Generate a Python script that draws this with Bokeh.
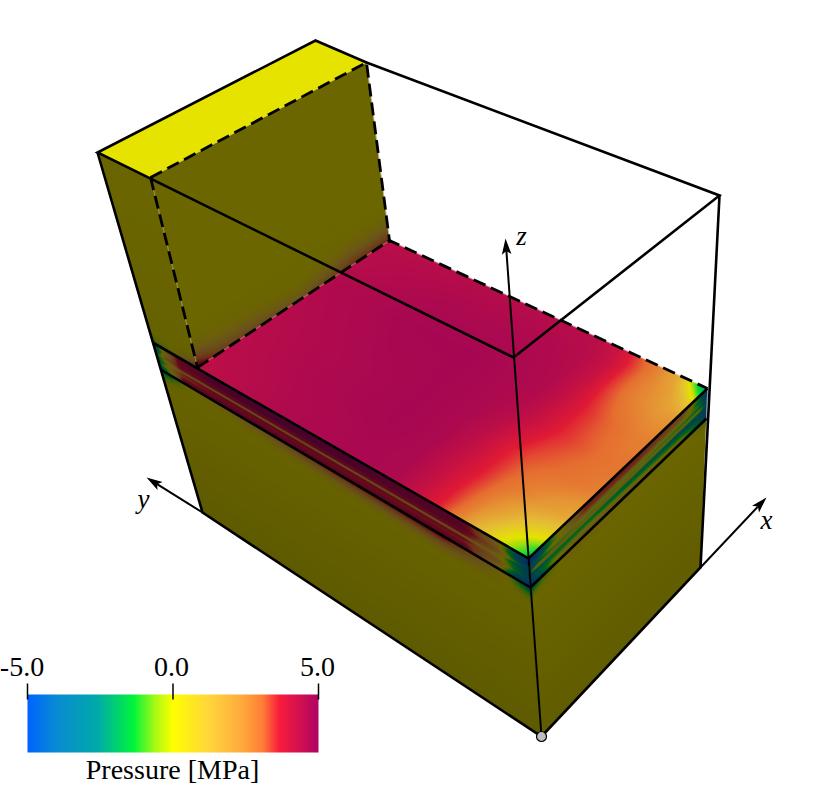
import numpy as np
from bokeh.plotting import figure
from bokeh.models import Range1d
from bokeh.core.properties import value
from bokeh.embed import file_html
from bokeh.resources import INLINE

W, H = 830, 792

# ---- colour scale (MPa -> RGB)
cmap_values = [-5.0, -4.0, -2.6, -1.36, -0.6, 0.0, 1.2, 2.4, 3.1, 3.65, 5.0]
cmap_r = [0, 10, 0, 0, 170, 255, 255, 255, 255, 250, 175]
cmap_g = [100, 140, 170, 245, 250, 255, 215, 170, 125, 30, 5]
cmap_b = [255, 210, 170, 60, 20, 0, 60, 60, 55, 60, 100]

# ---- colour bar
bar_ticks = [-5.0, 0.0, 5.0]
bar_tick_labels = ["-5.0", "0.0", "5.0"]
bar_tick_label_x = [21.5, 171, 317]
bar_title = "Pressure [MPa]"

# ---- top face: pressure [MPa], rows = across the block, columns = along it
top_s = [0, .03, .07, .12, .18, .24, .30, .38, .5, .7, 1]
top_t = [0, .05, .1, .2, .35, .5, .65, .8, .9, .95, 1]
top_p = [
    [-1.6, -1.0, -.2, 1.0, 2.6, 3.6, 4.2, 4.7, 4.75, 4.65, 4.35],
    [-1.3, -.5, .3, 1.5, 2.8, 3.6, 4.2, 4.7, 4.75, 4.65, 4.35],
    [.2, .4, 1.0, 2.0, 2.9, 3.6, 4.2, 4.7, 4.75, 4.65, 4.4],
    [1.8, 2.0, 2.3, 2.7, 3.1, 3.7, 4.2, 4.7, 4.8, 4.7, 4.45],
    [2.8, 2.9, 3.0, 3.1, 3.3, 3.7, 4.3, 4.7, 4.8, 4.7, 4.5],
    [3.0, 3.0, 3.1, 3.3, 3.6, 4.1, 4.5, 4.7, 4.8, 4.75, 4.55],
    [2.8, 2.8, 3.0, 3.2, 3.6, 4.2, 4.6, 4.7, 4.8, 4.8, 4.6],
    [2.4, 2.3, 2.5, 2.8, 3.4, 4.2, 4.55, 4.65, 4.7, 4.7, 4.5],
    [.5, 1.5, 2.3, 2.7, 3.4, 4.2, 4.5, 4.6, 4.6, 4.6, 4.5],
    [-1.5, .5, 2.0, 2.7, 3.4, 4.1, 4.45, 4.5, 4.55, 4.55, 4.45],
    [-2.6, -1.5, 1.6, 2.6, 3.2, 4.0, 4.4, 4.5, 4.5, 4.5, 4.4],
]

# ---- left layer strip
lband_s = [0, .03, .08, .2, .5, .85, .93, .97, 1]
lband_t = [0, .2, .33, .4, .47, .55, .62, .72, .85, 1]
lband_p = [
    [-3, 1, 4, 5, 5, 4.5, 1, -2, -4],
    [-4, 0, 4, 5, 5, 4.5, 1, -3, -5],
    [-3, 1, 4, 4.8, 5, 4.5, 2, -2, -4],
    [-2, 2, 3.7, 4.0, 4.0, 3.8, 2, -1, -3],
    [-3, 0, 4, 4.7, 4.7, 4.4, 1, -3, -4],
    [-2, .5, 1, .8, .9, 1, .5, -1.5, -3],
    [-3, -1, 3.5, 4.5, 4.5, 4.2, 1, -2, -4],
    [-2, 1, 3.0, 3.7, 3.7, 3.4, 2, -1.5, -3],
    [-3, -1, 4, 4.2, 4.2, 4, 1, -3, -4.5],
    [-3.5, -1, 4.5, 4.8, 4.8, 4.4, 0, -3.5, -5],
]

# ---- right layer strip
rband_s = [0, .04, .12, .3, .6, .85, .95, 1]
rband_t = [0, .2, .33, .42, .5, .6, .72, .85, 1]
rband_p = [
    [-5, -4, -1, 3.5, 3.5, 3, -1, -4],
    [-5, -4, -1, 3.2, 3.2, 2, -2, -5],
    [-3, -2, .5, 1.5, 1, .5, -1, -3],
    [-4, -3, -1.5, -1, -1, -1.5, -2, -4],
    [-2, 2, 2.5, 2.5, 2, 1.5, 1, -3],
    [-4, -3, -2, -1.8, -2.4, -3, -3, -4.5],
    [-4, -2, -1.2, -.8, -1.5, -2, -3, -4],
    [-5, -3, 0, 1.2, .5, -.5, -2, -4],
    [-5, -4, -1, 2, 1.5, .3, -2, -4.5],
]

# ---- bleed of the layer into the lower left face
lface_s = [0, .02, .08, .2, .5, .8, .95, 1]
lface_t = [0, .03, .07, .12, 1]
lface_p = [
    [-3, -2.5, 0, .8, 3.6, 4.2, 0, -4],
    [-1, -1, 0, .3, 2.2, 3, 0, -1.5],
    [0, 0, 0, 0, .5, 1, 0, -.3],
    [0, 0, 0, 0, 0, 0, 0, 0],
    [0, 0, 0, 0, 0, 0, 0, 0],
]

# ---- bleed of the layer into the lower right face
rface_s = [0, .05, .2, .5, .9, 1]
rface_t = [0, .03, .07, 1]
rface_p = [
    [-4, -1.5, .8, .4, 0, -1],
    [-1, -.3, .2, .1, 0, -.2],
    [0, 0, 0, 0, 0, 0],
    [0, 0, 0, 0, 0, 0],
]

# ---- bleed at the foot of the rear wall
wall_s = [0, .1, .5, .8, 1]
wall_t = [0, .05, .1, .18, 1]
wall_p = [
    [4.5, 3, 1.5, 3.4, 3.5],
    [3, 1.5, .5, 1.8, 1.8],
    [1, .4, 0, .6, .6],
    [0, 0, 0, 0, 0],
    [0, 0, 0, 0, 0],
]

# ---- bleed at the foot of the small left wall
side_s = [0, .1, .5, 1]
side_t = [0, .03, .08, 1]
side_p = [
    [-2.5, -1, 0, 4],
    [-1, -.3, 0, 1.5],
    [0, 0, 0, 0],
    [0, 0, 0, 0],
]

# ---- geometry of the block, as screen positions (x, y from the top)
quad_top = [(528, 558), (197, 367), (389, 240), (707, 388)]
quad_lband = [(152, 342), (528, 558), (530, 587), (160, 369)]
quad_rband = [(528, 558), (707, 388), (706, 418), (530, 587)]
quad_lface = [(160, 369), (530, 587), (541, 736), (202, 512)]
quad_rface = [(530, 587), (706, 418), (700, 567), (541, 736)]
quad_wall = [(197, 367), (389, 240), (366, 62), (150, 177)]
quad_side = [(152, 342), (197, 367), (150, 177), (97, 152)]
poly_yellow = [(97, 152), (315, 40), (366, 62), (150, 177)]

solid_lines = [
    [(366, 62), (315, 40), (97, 152), (513, 357), (719, 195), (366, 62)],
    [(97, 152), (202, 512), (541, 736), (700, 567), (719, 195)],
    [(152, 342), (528, 558), (707, 388)],
    [(160, 369), (530, 587), (706, 418)],
]
dashed_lines = [
    [(197, 367), (389, 240), (707, 388)],
    [(150, 177), (366, 62), (389, 240)],
    [(150, 177), (197, 367)],
]
axis_lines = [
    ("z", (541, 736), (505, 238), (521, 235)),
    ("y", (202, 512), (146, 477), (143, 498)),
    ("x", (700, 567), (766, 497), (766, 519)),
]
origin_point = (541, 736)

BAR_X0, BAR_X1, BAR_TOP, BAR_BOTTOM = 27, 318, 694, 752
SERIF = "Liberation Serif"


def Y(y):
    return H - np.asarray(y, float)


def cmap(v):
    return np.stack([np.interp(v, cmap_values, c) for c in (cmap_r, cmap_g, cmap_b)], -1)


def homography(q):
    """Projective map of the unit square onto quad q."""
    A, b = [], []
    for (u, v), (x, y) in zip([(0, 0), (1, 0), (1, 1), (0, 1)], q):
        A.append([u, v, 1, 0, 0, 0, -u * x, -v * x])
        A.append([0, 0, 0, u, v, 1, -u * y, -v * y])
        b += [x, y]
    return np.append(np.linalg.solve(np.array(A, float), np.array(b, float)), 1).reshape(3, 3)


def sample(s, t, sn, tn, vals):
    """Read a value table at table positions s, t."""
    vals = np.asarray(vals, float)
    i = np.interp(s, sn, np.arange(len(sn)))
    j = np.interp(t, tn, np.arange(len(tn)))
    i0 = np.clip(np.floor(i).astype(int), 0, len(sn) - 2)
    j0 = np.clip(np.floor(j).astype(int), 0, len(tn) - 2)
    fi, fj = i - i0, j - j0
    return (vals[j0, i0] * (1 - fi) * (1 - fj) + vals[j0, i0 + 1] * fi * (1 - fj)
            + vals[j0 + 1, i0] * (1 - fi) * fj + vals[j0 + 1, i0 + 1] * fi * fj)


def soften(a, r):
    """Box smoothing, as the renderer's shading softens the table's cells."""
    if r <= 0:
        return a
    for axis in (0, 1):
        pad = [(0, 0), (0, 0)]
        pad[axis] = (r + 1, r)
        c = np.cumsum(np.pad(a, pad, mode="edge"), axis=axis)
        a = (np.take(c, range(2 * r + 1, c.shape[axis]), axis=axis)
             - np.take(c, range(0, c.shape[axis] - 2 * r - 1), axis=axis)) / (2 * r + 1)
    return a


def face(q, sn, tn, vals, shade0, shade1=None, blur=0):
    shade1 = shade0 if shade1 is None else shade1
    xs = [a for a, _ in q]
    ys = [b for _, b in q]
    x0, x1, y0, y1 = int(min(xs)) - 1, int(max(xs)) + 2, int(min(ys)) - 1, int(max(ys)) + 2
    gx, gy = np.meshgrid(np.arange(x0, x1) + .5, np.arange(y0, y1) + .5)
    inv = np.linalg.inv(homography(q))
    d = inv[2, 0] * gx + inv[2, 1] * gy + inv[2, 2]
    u = (inv[0, 0] * gx + inv[0, 1] * gy + inv[0, 2]) / d
    v = (inv[1, 0] * gx + inv[1, 1] * gy + inv[1, 2]) / d
    su = np.hypot(q[1][0] - q[0][0], q[1][1] - q[0][1])
    sv = np.hypot(q[3][0] - q[0][0], q[3][1] - q[0][1])
    cov = np.clip(np.minimum.reduce([u * su, (1 - u) * su, v * sv, (1 - v) * sv]) + .5, 0, 1)
    uc, vc = np.clip(u, 0, 1), np.clip(v, 0, 1)
    rgb = cmap(soften(sample(uc, vc, sn, tn, vals), blur))
    k = vc[..., None]
    rgb = rgb * (np.array(shade0) * (1 - k) + np.array(shade1) * k)
    img = np.zeros(gx.shape + (4,), dtype=np.uint8)
    img[..., :3] = np.clip(rgb, 0, 255).astype(np.uint8)
    img[..., 3] = (cov * 255).astype(np.uint8)
    flat = np.flipud(img).view(dtype=np.uint32).reshape(gx.shape)
    return flat, x0, H - y1, x1 - x0, y1 - y0


p = figure(width=W - 8, height=H - 8, x_range=Range1d(0, W - 8), y_range=Range1d(8, H),
           output_backend="svg", toolbar_location=None, min_border=0,
           outline_line_color=None, x_axis_location=None, y_axis_location=None)
p.grid.visible = False

TOP = (.90, .89, .88)
faces = [
    (quad_side, side_s, side_t, side_p, (.40, .385, .40), (.42, .40, .42), 0),
    (quad_wall, wall_s, wall_t, wall_p, (.42, .40, .42), (.42, .40, .42), 3),
    (quad_top, top_s, top_t, top_p, TOP, TOP, 5),
    (quad_lface, lface_s, lface_t, lface_p, (.41, .39, .41), (.37, .355, .37), 2),
    (quad_rface, rface_s, rface_t, rface_p, (.42, .40, .42), (.38, .365, .38), 2),
    (quad_lband, lband_s, lband_t, lband_p, (.42, .40, .42), (.42, .40, .42), 0),
    (quad_rband, rband_s, rband_t, rband_p, (.42, .42, .42), (.42, .42, .42), 0),
]
for q, sn, tn, vals, sh0, sh1, blur in faces:
    img, ix, iy, dw, dh = face(q, sn, tn, vals, sh0, sh1, blur)
    p.image_rgba(image=[img], x=ix, y=iy, dw=dw, dh=dh)

# yellow top of the wall
p.patch([a for a, _ in poly_yellow], Y([b for _, b in poly_yellow]),
        fill_color="#e6e300", line_color=None)

# block wireframe
p.multi_line([[a for a, _ in l] for l in solid_lines],
             [list(Y([b for _, b in l])) for l in solid_lines],
             line_color="black", line_width=2.6, line_join="miter")
p.multi_line([[a for a, _ in l] for l in dashed_lines],
             [list(Y([b for _, b in l])) for l in dashed_lines],
             line_color="black", line_width=2.8, line_dash="13 6")

# axes with arrows: each head is a barbed shape built along the axis direction
HEAD_LEN, HEAD_NOTCH, HEAD_HALF = 16.0, 12.5, 4.8
for name, a, b, lab in axis_lines:
    a_, b_ = np.array(a, float), np.array(b, float)
    d = (b_ - a_) / np.hypot(*(b_ - a_))
    n = np.array([-d[1], d[0]])
    back = b_ - d * HEAD_LEN
    notch = b_ - d * HEAD_NOTCH
    head = [b_, back + n * HEAD_HALF, notch, back - n * HEAD_HALF]
    p.line([a_[0], notch[0]], Y([a_[1], notch[1]]), line_color="black", line_width=2)
    p.patch([h[0] for h in head], Y([h[1] for h in head]), fill_color="black", line_color=None)
    p.text([lab[0]], Y([lab[1]]), text=[name], text_font=value(SERIF), text_font_style="italic",
           text_font_size="27px", text_align="center", text_baseline="alphabetic", text_color="black")

p.scatter([origin_point[0]], Y([origin_point[1]]), size=10, fill_color="#bdbdbd",
          line_color="black", line_width=1.2)

# colour bar
scale_vals = np.linspace(bar_ticks[0], bar_ticks[-1], BAR_X1 - BAR_X0)
bar = np.zeros((1, BAR_X1 - BAR_X0, 4), dtype=np.uint8)
bar[0, :, :3] = cmap(scale_vals).astype(np.uint8)
bar[0, :, 3] = 255
p.image_rgba(image=[bar.view(dtype=np.uint32).reshape(1, -1)], x=BAR_X0, y=float(Y(BAR_BOTTOM)),
             dw=BAR_X1 - BAR_X0, dh=BAR_BOTTOM - BAR_TOP)
tick_x = [BAR_X0 + (t - bar_ticks[0]) / (bar_ticks[-1] - bar_ticks[0]) * (BAR_X1 - BAR_X0) for t in bar_ticks]
p.segment(tick_x, Y([683] * 3), tick_x, Y([699] * 3), line_color="black", line_width=1.5)
p.text(bar_tick_label_x, Y([666] * 3), text=bar_tick_labels, text_font=value(SERIF), text_font_size="28px",
       text_align="center", text_baseline="alphabetic", text_color="black")
p.text([172], Y([769]), text=[bar_title], text_font=value(SERIF), text_font_size="28px",
       text_align="center", text_baseline="alphabetic", text_color="black")

open("out.html", "w").write(file_html(p, INLINE))
